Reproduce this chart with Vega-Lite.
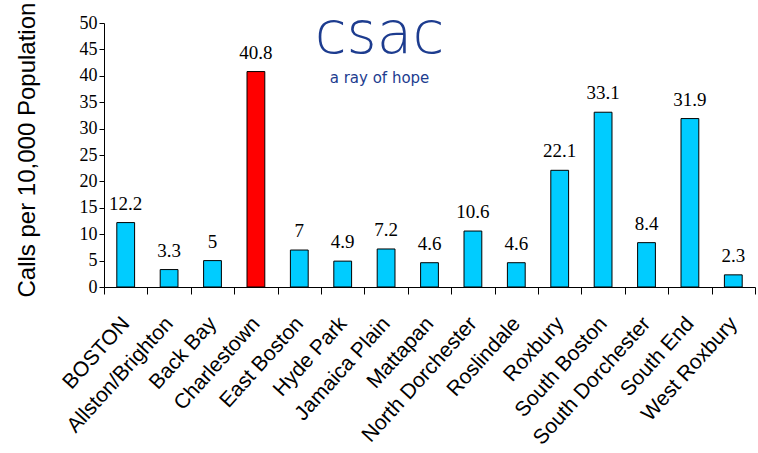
{
  "$schema": "https://vega.github.io/schema/vega-lite/v6.json",
  "width": 651,
  "height": 264,
  "autosize": {"type": "none"},
  "padding": {"left": 104, "top": 23, "right": 3, "bottom": 166},
  "background": "white",
  "title": {
    "text": "csac",
    "subtitle": "a ray of hope",
    "anchor": "middle",
    "frame": "group",
    "dx": -50,
    "offset": -84,
    "font": "DejaVu Sans",
    "fontSize": 58,
    "fontWeight": 200,
    "color": "#1d3c8f",
    "subtitleFont": "DejaVu Sans",
    "subtitleFontSize": 15,
    "subtitleColor": "#1d3c8f",
    "subtitlePadding": 6
  },
  "data": {
    "values": [
      {"area": "BOSTON", "calls": 12.2, "hl": "no"},
      {"area": "Allston/Brighton", "calls": 3.3, "hl": "no"},
      {"area": "Back Bay", "calls": 5, "hl": "no"},
      {"area": "Charlestown", "calls": 40.8, "hl": "yes"},
      {"area": "East Boston", "calls": 7, "hl": "no"},
      {"area": "Hyde Park", "calls": 4.9, "hl": "no"},
      {"area": "Jamaica Plain", "calls": 7.2, "hl": "no"},
      {"area": "Mattapan", "calls": 4.6, "hl": "no"},
      {"area": "North Dorchester", "calls": 10.6, "hl": "no"},
      {"area": "Roslindale", "calls": 4.6, "hl": "no"},
      {"area": "Roxbury", "calls": 22.1, "hl": "no"},
      {"area": "South Boston", "calls": 33.1, "hl": "no"},
      {"area": "South Dorchester", "calls": 8.4, "hl": "no"},
      {"area": "South End", "calls": 31.9, "hl": "no"},
      {"area": "West Roxbury", "calls": 2.3, "hl": "no"}
    ]
  },
  "encoding": {
    "x": {
      "field": "area",
      "type": "nominal",
      "sort": null,
      "scale": {"paddingInner": 0, "paddingOuter": 0},
      "axis": {
        "title": null,
        "tickBand": "extent",
        "tickSize": 7,
        "tickColor": "black",
        "domainColor": "black",
        "labelAngle": -48,
        "labelAlign": "right",
        "labelBaseline": "middle",
        "labelFont": "Liberation Sans",
        "labelFontSize": 21,
        "labelColor": "black",
        "labelPadding": 26,
        "labelLimit": 300
      }
    },
    "y": {
      "field": "calls",
      "type": "quantitative",
      "scale": {"domain": [0, 50], "nice": false},
      "axis": {
        "values": [0, 5, 10, 15, 20, 25, 30, 35, 40, 45, 50],
        "grid": false,
        "title": "Calls per 10,000 Population",
        "titleFont": "Liberation Sans",
        "titleFontSize": 24,
        "titleFontWeight": "normal",
        "titleColor": "black",
        "titleAngle": -90,
        "titleAlign": "left",
        "titleBaseline": "middle",
        "titleX": -77,
        "titleY": 274,
        "labelFont": "Liberation Serif",
        "labelFontSize": 18,
        "labelColor": "black",
        "labelPadding": 2,
        "tickSize": 5,
        "tickColor": "black",
        "domainColor": "black"
      }
    }
  },
  "layer": [
    {
      "mark": {"type": "bar", "stroke": "black", "strokeWidth": 1, "width": {"band": 0.41}},
      "encoding": {
        "color": {
          "field": "hl",
          "type": "nominal",
          "scale": {"domain": ["no", "yes"], "range": ["#00CCFF", "#FF0000"]},
          "legend": null
        }
      }
    },
    {
      "mark": {"type": "text", "font": "Liberation Serif", "fontSize": 19, "baseline": "alphabetic", "dy": -13, "color": "black"},
      "encoding": {"text": {"field": "calls", "type": "quantitative"}}
    }
  ],
  "config": {"view": {"stroke": null}}
}
